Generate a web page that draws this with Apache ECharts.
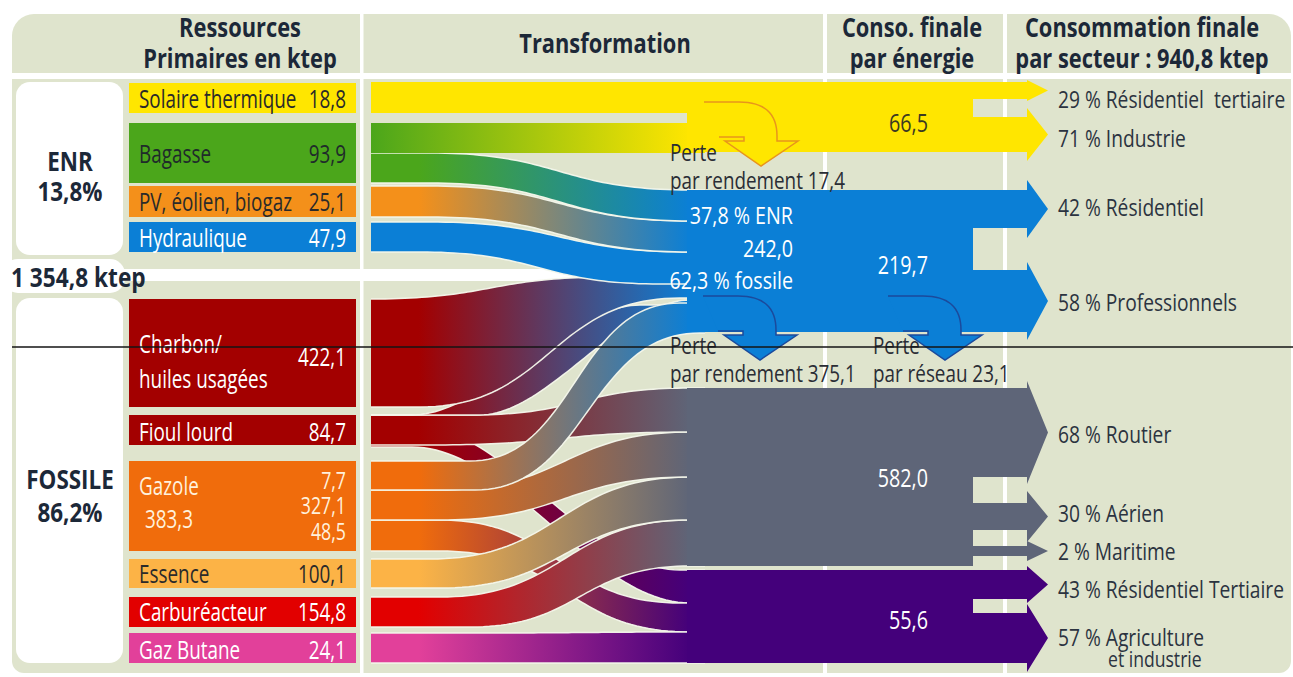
<!DOCTYPE html>
<html lang="fr">
<head>
<meta charset="utf-8">
<title>Bilan énergétique</title>
<script src="https://cdn.jsdelivr.net/npm/echarts@6.0.0/dist/echarts.min.js"></script>
<style>
html,body{margin:0;padding:0;background:#ffffff;}
#chart{width:1293px;height:677px;}
</style>
</head>
<body>
<div id="chart"></div>
<script>
// ===== DATA =====
const groupNames = ['ENR', 'FOSSILE'];
const groupShares = [13.8, 86.2];
const primaryTotal = 1354.8;
const resourceNames = ['Solaire thermique', 'Bagasse', 'PV, éolien, biogaz', 'Hydraulique', 'Charbon/\nhuiles usagées', 'Fioul lourd', 'Gazole', 'Essence', 'Carburéacteur', 'Gaz Butane'];
const resourceValues = [18.8, 93.9, 25.1, 47.9, 422.1, 84.7, 383.3, 100.1, 154.8, 24.1];
const gazoleUses = [7.7, 327.1, 48.5];
const energyValues = [66.5, 219.7, 582.0, 55.6];
const elecProduced = 242.0;
const elecShareNames = ['ENR', 'fossile'];
const elecShares = [37.8, 62.3];
const lossWord = 'Perte';
const lossNames = ['par rendement', 'par rendement', 'par réseau'];
const lossValues = [17.4, 375.1, 23.1];
const finalTotal = 940.8;
const sectorNames = [['Résidentiel  tertiaire', 'Industrie'], ['Résidentiel', 'Professionnels'], ['Routier', 'Aérien', 'Maritime'], ['Résidentiel Tertiaire', 'Agriculture\net industrie']];
const sectorShares = [[29, 71], [42, 58], [68, 30, 2], [43, 57]];
// links: [resource index, final-energy index]
const flowLinks = [[0,0],[1,0],[1,1],[2,1],[3,1],[4,1],[5,1],[6,1],[5,2],[6,2],[7,2],[8,2],[5,3],[6,3],[9,3]];
const headerTitles = [['Ressources', 'Primaires en ktep'], ['Transformation'], ['Conso. finale', 'par énergie'], ['Consommation finale', 'par secteur : {total} ktep']];

// ===== LAYOUT (units of the hidden axes) =====
const L = {
  panel: {x0: 12, x1: 1291, headTop: 14, headBot: 73, bodyTop: 79, bodyBot: 673},
  seps: [[360, 3.5], [823, 4], [1003, 4]],
  gap: [12, 823, 269, 281],
  boxes: [[16, 82, 107, 173], [16, 298, 107, 365]],
  totalBox: [3, 259, 122, 34],
  groupText: [[70, 160, 190], [70, 478, 511]],
  totalText: [11, 276],
  resX: [129, 356], resLabelX: 139, resValueX: 346,
  resRows: [[83,113],[123,183],[186,217],[222,252],[299,407],[415,445],[461,551],[559,588],[597,627],[633,663]],
  resLabelY: [98, 153, 201, 237, [343, 378], 431, 485, 573, 611, 649],
  resValueY: [98, 153, 201, 237, 356, 431, 518, 573, 611, 649],
  gazoleValueX: 145, gazoleUseY: [480, 505, 531],
  flowX0: 371, flowX1: 705, gradX0: 371, gradX1: 690,
  flows: [
    {top: [371, 82, 371, 82], bot: [371, 113, 371, 113], stroke: false},
    {top: [371, 123, 371, 123], bot: [371, 153, 371, 153], stroke: false, hold: 0},
    {top: [430, 153, 690, 190], bot: [430, 183, 690, 221]},
    {top: [430, 186, 690, 221], bot: [430, 217, 690, 252]},
    {top: [430, 222, 690, 252], bot: [420, 252, 660, 284]},
    {top: [371, 299, 610, 277], bot: [420, 407, 680, 298]},
    {top: [412, 415, 640, 305], bot: [480, 415, 690, 300], k: 0.32},
    {top: [470, 461, 680, 303], bot: [475, 490, 700, 333]},
    {top: [470, 415, 690, 388], bot: [430, 445, 690, 432]},
    {top: [440, 490, 690, 432], bot: [440, 520, 690, 477]},
    {top: [430, 559, 690, 477], bot: [440, 588, 690, 520]},
    {top: [440, 597, 690, 520], bot: [470, 627, 690, 566]},
    {top: [412, 425, 680, 570], bot: [412, 447, 690, 603], k: 0.35},
    {top: [440, 520, 680, 603], bot: [440, 551, 690, 632]},
    {top: [480, 633, 690, 632], bot: [480, 663, 690, 663]}
  ],
  flowOrder: [12, 13, 14, 11, 10, 9, 8, 6, 5, 7, 4, 3, 2, 1, 0],
  blockX0: 687, bodyX1: 973, headX0: 1027, tipX: 1048,
  blocks: [
    {y: [82, 152], arrows: [[82, 99, 2], [117, 152, 9]]},
    {y: [190, 332], arrows: [[190, 228, 10], [270, 332, 8]]},
    {y: [388, 566], arrows: [[388, 477, 7], [503, 530, 12], [546, 556, 5]]},
    {y: [570, 663], arrows: [[570, 599, 4], [613, 663, 9]]}
  ],
  energyValueX: 928, energyValueY: [123, 265, 478, 620],
  elecText: {x: 793, y: [215, 248, 280]},
  sectorX: 1058, sectorY: [[99, 138], [207, 302], [434, 513, 551], [589, 637]], sectorLine2: [1108, 22],
  lossTip: [[761, 166], [760, 360], [945, 360]],
  lossText: [[670, 152, 180], [670, 345, 373], [873, 345, 373]],
  header: [[240, [27, 58]], [605, [43]], [912, [27, 58]], [1142, [27, 58]]],
  rule: [12, 1293, 347]
};

// ===== STYLE =====
const ST = {
  bg: '#dfe4cd', white: '#ffffff', sep: 'rgba(246,248,236,0.95)',
  res: ['#ffe600', '#4ba61b', '#f4901a', '#0b7fd6', '#a30000', '#a30000', '#f06c0c', '#fcb346', '#e20000', '#e2409a'],
  resText: ['#2a2a2a', '#1f2b2a', '#2a2a2a', '#ffffff', '#ffffff', '#ffffff', '#fff1dc', '#2a2a2a', '#ffffff', '#ffffff'],
  energy: ['#ffe600', '#0b7fd6', '#5e6578', '#44007b'],
  energyText: ['#3b3a22', '#ffffff', '#ffffff', '#ffffff'],
  lossFill: ['#ffe600', '#0b7fd6', '#0b7fd6'], lossStroke: ['#e8951c', '#1b4a9c', '#1b4a9c'],
  title: '#1c2838', label: '#2b3340', dark: '#2a2d35',
  fs: {head: 26, group: 27, total: 27, res: 25, resSmall: 23.5, energy: 25, elec: 24, loss: 23, sector: 24},
  sx: {head: 0.84, group: 0.83, total: 0.84, res: 0.755, energy: 0.79, elec: 0.82, loss: 0.82, sector: 0.8}
};
const FONT = '"Open Sans", "Noto Sans", sans-serif';

function fmt(v) {
  const s = v.toFixed(1).split('.');
  return s[0].replace(/\B(?=(\d{3})+(?!\d))/g, ' ') + ',' + s[1];
}

// ===== helpers =====
function C(api, p) { return api.coord(p); }
function R(api, x, y, w, h, fill, r) {
  const a = C(api, [x, y]), b = C(api, [x + w, y + h]);
  return {type: 'rect', shape: {x: a[0], y: a[1], width: b[0] - a[0], height: b[1] - a[1], r: r || 0}, style: {fill: fill}};
}
function T(api, x, y, s, o) {
  const p = C(api, [x, y]);
  return {type: 'text', x: p[0], y: p[1], scaleX: o.sx,
    style: {text: s, font: (o.bold ? 'bold ' : '') + o.size + 'px ' + FONT, fill: o.color || ST.label,
      align: o.align || 'left', verticalAlign: 'middle'}};
}
function bez(xa, ya, xb, yb, k, n) {
  const pts = [], d = xb - xa;
  for (let i = 0; i <= n; i++) {
    const t = i / n, m = 1 - t;
    const x = m*m*m*xa + 3*m*m*t*(xa + k*d) + 3*m*t*t*(xb - k*d) + t*t*t*xb;
    const y = (m*m*m + 3*m*m*t) * ya + (3*m*t*t + t*t*t) * yb;
    pts.push([x, y]);
  }
  return pts;
}
function edge(e, x0, x1, k) {
  const [xa, ya, xb, yb] = e;
  if (xb <= xa) return [[x0, ya], [x1, yb]];
  return [[x0, ya]].concat(bez(xa, ya, xb, yb, k, 48), [[x1, yb]]);
}
function quad(p0, c, p1, n) {
  const pts = [];
  for (let i = 0; i <= n; i++) {
    const t = i / n, m = 1 - t;
    pts.push([m*m*p0[0] + 2*m*t*c[0] + t*t*p1[0], m*m*p0[1] + 2*m*t*c[1] + t*t*p1[1]]);
  }
  return pts;
}
const lossShape = [[-57, -64]].concat(quad([-22, -64], [16, -64], [16, -30], 16),
  [[16, -25], [37, -25], [0, 0], [-36, -25], [-17, -25], [-17, -29], [-42, -29]]);

const chart = echarts.init(document.getElementById('chart'), null, {renderer: 'svg', width: 1293, height: 677});

const base = {type: 'custom', coordinateSystem: 'cartesian2d', silent: true, animation: false};
const F = ST.fs, S = ST.sx;

const option = {
  backgroundColor: '#ffffff',
  animation: false,
  grid: {left: 0, right: 0, top: 0, bottom: 0},
  xAxis: {type: 'value', min: 0, max: 1293, show: false},
  yAxis: {type: 'value', min: 0, max: 677, inverse: true, show: false},
  series: [
    // panel, column separators, headers
    Object.assign({}, base, {
      z: 1,
      data: headerTitles.map((h, i) => [i, 0]),
      renderItem(params, api) {
        const i = params.dataIndex, P = L.panel, ch = [];
        if (i === 0) {
          ch.push(R(api, P.x0, P.headTop, P.x1 - P.x0, P.headBot - P.headTop, ST.bg, [22, 22, 0, 0]));
          ch.push(R(api, P.x0, P.bodyTop, P.x1 - P.x0, P.bodyBot - P.bodyTop, ST.bg, [0, 0, 12, 12]));
          L.seps.forEach(s => ch.push(R(api, s[0], P.headTop, s[1], P.bodyBot - P.headTop, ST.white)));
          ch.push(R(api, L.gap[0], L.gap[2], L.gap[1] - L.gap[0], L.gap[3] - L.gap[2], ST.white));
          L.boxes.forEach(b => ch.push(R(api, b[0], b[1], b[2], b[3], ST.white, 14)));
          const tb = L.totalBox;
          ch.push(R(api, tb[0], tb[1], tb[2], tb[3], ST.white, 15));
        }
        const h = L.header[i];
        headerTitles[i].forEach((line, j) => {
          ch.push(T(api, h[0], h[1][j], line.replace('{total}', fmt(finalTotal)), {bold: true, size: F.head, sx: S.head, color: ST.title, align: 'center'}));
        });
        return {type: 'group', children: ch};
      }
    }),
    // ENR / FOSSILE groups + total
    Object.assign({}, base, {
      z: 2,
      data: groupShares.map((v, i) => [i, v]),
      renderItem(params, api) {
        const i = params.dataIndex, g = L.groupText[i], ch = [];
        const o = {bold: true, size: F.group, sx: S.group, color: ST.title, align: 'center'};
        ch.push(T(api, g[0], g[1], groupNames[i], o));
        ch.push(T(api, g[0], g[2], fmt(groupShares[i]) + '%', o));
        if (i === 0) ch.push(T(api, L.totalText[0], L.totalText[1], fmt(primaryTotal) + ' ktep', {bold: true, size: F.total, sx: S.total, color: ST.title}));
        return {type: 'group', children: ch};
      }
    }),
    // primary resources
    Object.assign({}, base, {
      z: 3,
      data: resourceValues.map((v, i) => [i, v]),
      renderItem(params, api) {
        const i = params.dataIndex, row = L.resRows[i], col = ST.resText[i], ch = [];
        const o = {size: F.res, sx: S.res, color: col};
        ch.push(R(api, L.resX[0], row[0], L.resX[1] - L.resX[0], row[1] - row[0], ST.res[i]));
        const names = resourceNames[i].split('\n'), ly = L.resLabelY[i];
        names.forEach((n, j) => ch.push(T(api, L.resLabelX, Array.isArray(ly) ? ly[j] : ly, n, o)));
        if (resourceNames[i] === 'Gazole') {
          ch.push(T(api, L.gazoleValueX, L.resValueY[i], fmt(resourceValues[i]), o));
          gazoleUses.forEach((u, j) => ch.push(T(api, L.resValueX, L.gazoleUseY[j], fmt(u), {size: F.resSmall, sx: S.res, color: col, align: 'right'})));
        } else {
          ch.push(T(api, L.resValueX, L.resValueY[i], fmt(resourceValues[i]), Object.assign({align: 'right'}, o)));
        }
        return {type: 'group', children: ch};
      }
    }),
    // transformation flows
    Object.assign({}, base, {
      z: 4,
      data: L.flowOrder.map((li, j) => [j, li]),
      renderItem(params, api) {
        const li = L.flowOrder[params.dataIndex], link = flowLinks[li], g = L.flows[li], k = g.k || 0.5;
        const top = edge(g.top, L.flowX0, L.flowX1, k), bot = edge(g.bot, L.flowX0, L.flowX1, k);
        const pts = top.concat(bot.slice().reverse()).map(p => C(api, p));
        const c0 = ST.res[link[0]], c1 = ST.energy[link[1]];
        const a = C(api, [L.gradX0, 0]), b = C(api, [L.gradX1, 0]);
        const hold = g.hold === undefined ? 0.15 : g.hold;
        const fill = c0 === c1 ? c0 : new echarts.graphic.LinearGradient(a[0], 0, b[0], 0,
          [{offset: 0, color: c0}, {offset: hold, color: c0}, {offset: 1, color: c1}], true);
        const ch = [{type: 'polygon', shape: {points: pts}, style: {fill: fill}}];
        if (g.stroke !== false) {
          [top, bot].forEach(e => ch.push({type: 'polyline', shape: {points: e.map(p => C(api, p))},
            style: {fill: null, stroke: ST.sep, lineWidth: 1.5}}));
        }
        return {type: 'group', children: ch};
      }
    }),
    // final energy blocks with sector arrows
    Object.assign({}, base, {
      z: 5,
      data: energyValues.map((v, i) => [i, v]),
      renderItem(params, api) {
        const i = params.dataIndex, b = L.blocks[i], col = ST.energy[i], ch = [];
        ch.push(R(api, L.blockX0, b.y[0], L.bodyX1 - L.blockX0, b.y[1] - b.y[0], col));
        b.arrows.forEach(a => {
          const mid = (a[0] + a[1]) / 2;
          const pts = [[L.bodyX1 - 1, a[0]], [L.headX0, a[0]], [L.headX0, a[0] - a[2]], [L.tipX, mid],
            [L.headX0, a[1] + a[2]], [L.headX0, a[1]], [L.bodyX1 - 1, a[1]]].map(p => C(api, p));
          ch.push({type: 'polygon', shape: {points: pts}, style: {fill: col}});
        });
        ch.push(T(api, L.energyValueX, L.energyValueY[i], fmt(energyValues[i]), {size: F.energy, sx: S.energy, color: ST.energyText[i], align: 'right'}));
        if (i === 1) {
          const e = L.elecText, o = {size: F.elec, sx: S.elec, color: '#ffffff', align: 'right'};
          ch.push(T(api, e.x, e.y[0], fmt(elecShares[0]) + ' % ' + elecShareNames[0], o));
          ch.push(T(api, e.x, e.y[1], fmt(elecProduced), o));
          ch.push(T(api, e.x, e.y[2], fmt(elecShares[1]) + ' % ' + elecShareNames[1], o));
        }
        sectorNames[i].forEach((n, j) => {
          const lines = n.split('\n'), y = L.sectorY[i][j], o = {size: F.sector, sx: S.sector, color: ST.label};
          ch.push(T(api, L.sectorX, y, sectorShares[i][j] + ' % ' + lines[0], o));
          if (lines[1]) ch.push(T(api, L.sectorLine2[0], y + L.sectorLine2[1], lines[1], Object.assign({}, o, {size: 22})));
        });
        return {type: 'group', children: ch};
      }
    }),
    // losses
    Object.assign({}, base, {
      z: 6,
      data: lossValues.map((v, i) => [i, v]),
      renderItem(params, api) {
        const i = params.dataIndex, tip = L.lossTip[i], tx = L.lossText[i], ch = [];
        const pts = lossShape.map(p => C(api, [tip[0] + p[0], tip[1] + p[1]]));
        const o = {size: F.loss, sx: S.loss, color: ST.dark};
        ch.push({type: 'polygon', shape: {points: pts}, style: {fill: ST.lossFill[i]}});
        ch.push({type: 'polyline', shape: {points: pts}, style: {fill: null, stroke: ST.lossStroke[i], lineWidth: 1.5}});
        ch.push(T(api, tx[0], tx[1], lossWord, o));
        ch.push(T(api, tx[0], tx[2], lossNames[i] + ' ' + fmt(lossValues[i]), o));
        return {type: 'group', children: ch};
      }
    }),
    // thin black rule across the picture
    Object.assign({}, base, {
      z: 7,
      data: [[0, L.rule[2]]],
      renderItem(params, api) {
        const a = C(api, [L.rule[0], L.rule[2]]), b = C(api, [L.rule[1], L.rule[2]]);
        return {type: 'line', shape: {x1: a[0], y1: a[1], x2: b[0], y2: b[1]}, style: {stroke: '#151515', lineWidth: 1.6}};
      }
    })
  ]
};
chart.setOption(option);
</script>
</body>
</html>
